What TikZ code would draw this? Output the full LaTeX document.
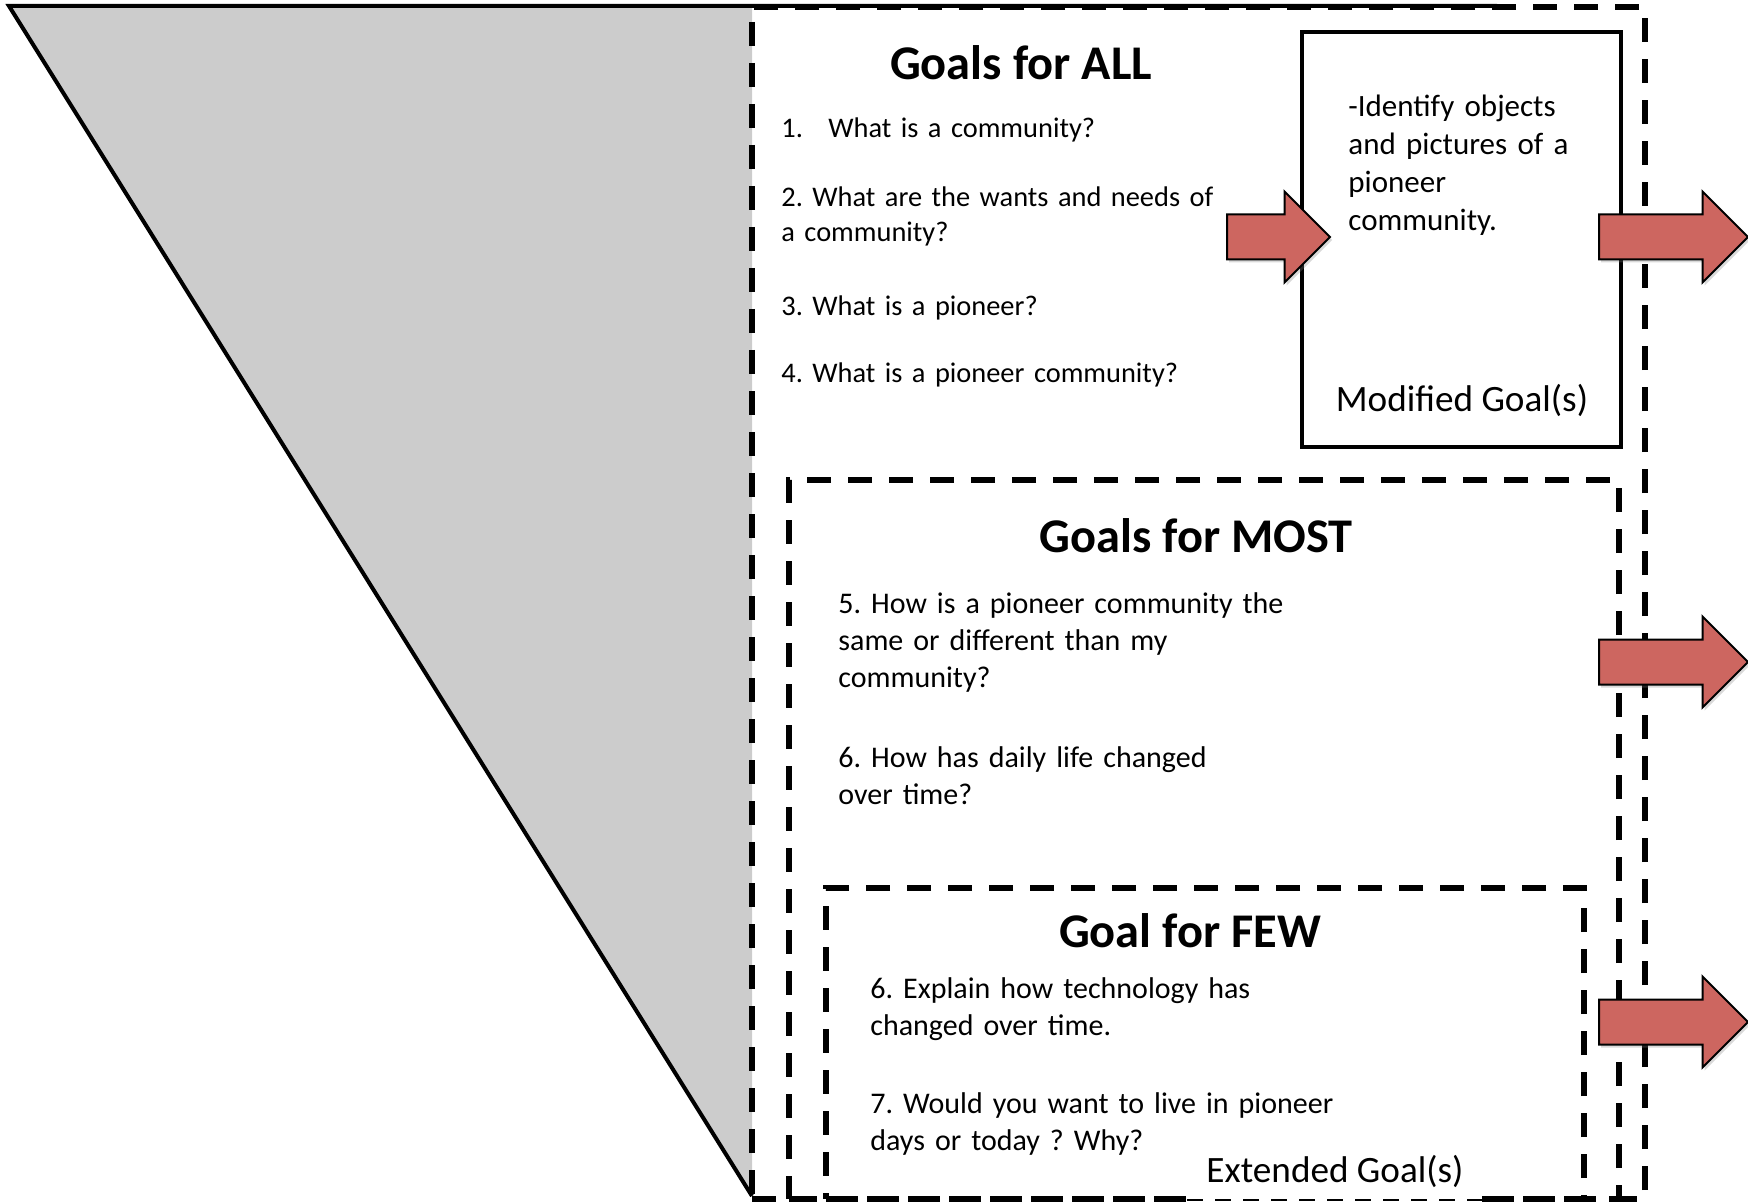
\documentclass[tikz,border=0pt]{standalone}
\usepackage{fontspec}
\setmainfont{Carlito}
\usepackage{xcolor}
\usetikzlibrary{shapes.arrows,shadows}

\definecolor{arrowred}{RGB}{205,102,96}
\definecolor{funnelgray}{RGB}{204,204,204}

\begin{document}
\frenchspacing
\begin{tikzpicture}[x=0.5pt, y=-0.5pt,
    dashbox/.style={rectangle, draw=black, line width=2.6pt, dash pattern=on 12pt off 8.5pt, inner sep=0pt},
    solidbox/.style={rectangle, draw=black, line width=2.4pt, inner sep=0pt},
    title/.style={anchor=base, inner sep=0pt, font=\bfseries\fontsize{24.2}{28}\selectfont},
    question/.style={anchor=base west, inner sep=0pt, align=left, text width=300pt, font=\fontsize{14.2}{17.5}\selectfont},
    bigquestion/.style={question, font=\fontsize{15}{18.5}\selectfont},
    goaltag/.style={anchor=base, inner sep=0pt, font=\fontsize{18.6}{20}\selectfont},
    blockarrow/.style={single arrow, draw=black, line width=1pt, fill=arrowred, minimum width=44.5pt, minimum height=74.5pt,
        single arrow head extend=11.5pt, single arrow head indent=0pt, inner xsep=0pt, inner ysep=10.75pt, anchor=tail,
        drop shadow={opacity=0.3, shadow xshift=1pt, shadow yshift=-1.5pt}}
]
\useasboundingbox (0,0) rectangle (1748,1203);

% funnel
\fill[funnelgray] (9,7) -- (752,7) -- (752,1196) -- cycle;
\draw[line width=2pt] (1497,6) -- (9,6) -- (752,1196);

% goal boxes
\node[dashbox, minimum width=446.5pt, minimum height=596pt] (allbox) at (1198.5,603) {};
\node[solidbox, minimum width=159.5pt, minimum height=207.5pt] (modbox) at (1461.5,239.5) {};
\node[dashbox, minimum width=415pt, minimum height=359.5pt] (mostbox) at (1204,839.5) {};
\node[dashbox, minimum width=379pt, minimum height=155.5pt] (fewbox) at (1205,1043.5) {};

% all
\node[title] (alltitle) at (1021,80) {Goals for ALL};
\node[question] (q1) at (781,138) {\makebox[23.5pt][l]{1.}What is a community?};
\node[question] (q2) at (781,207) {2. What are the wants and needs of\\a community?};
\node[question] (q3) at (781,315) {3. What is a pioneer?};
\node[question] (q4) at (781,382) {4. What is a pioneer community?};

\node[question, font=\fontsize{15.5}{19}\selectfont] (modtext) at (1348,117) {-Identify objects\\and pictures of a\\pioneer\\community.};
\node[goaltag] (modtag) at (1462,411) {Modified Goal(s)};

% most
\node[title] (mosttitle) at (1196,552) {Goals for MOST};
\node[bigquestion] (q5) at (838,613) {5. How is a pioneer community the\\same or different than my\\community?};
\node[bigquestion] (q6) at (838,767) {6. How has daily life changed\\over time?};

% few
\node[title] (fewtitle) at (1190,947) {Goal for FEW};
\node[bigquestion] (q6b) at (870,998) {6. Explain how technology has\\changed over time.};
\node[bigquestion] (q7) at (870,1113) {7. Would you want to live in pioneer\\days or today ? Why?};
\node[goaltag] (exttag) at (1335,1182) {Extended Goal(s)};

\fill[white] (1187,1195) rectangle (1482,1203);
\draw[line width=1pt, dash pattern=on 8pt off 6pt] (1187,1200) -- (1482,1200);

% arrows
\node[blockarrow, minimum height=51.5pt] (arrin) at (1226,237) {};
\node[blockarrow] (arrall) at (1598,237) {};
\node[blockarrow] (arrmost) at (1598,662) {};
\node[blockarrow] (arrfew) at (1598,1022) {};

\end{tikzpicture}
\end{document}
